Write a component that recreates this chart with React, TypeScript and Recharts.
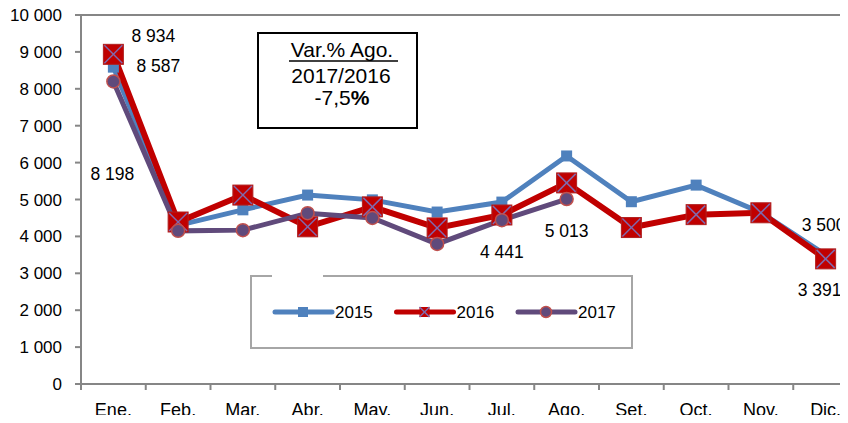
import { LineChart, Line, XAxis, YAxis, ReferenceLine, Legend, LabelList, Customized } from "recharts";

const MONTHS = ["Ene.", "Feb.", "Mar.", "Abr.", "May.", "Jun.", "Jul.", "Ago.", "Set.", "Oct.", "Nov.", "Dic."];
const VALUES_2015 = [8587, 4300, 4720, 5120, 4990, 4660, 4930, 6180, 4940, 5390, 4650, 3500];
const VALUES_2016 = [8934, 4390, 5120, 4260, 4800, 4230, 4580, 5450, 4240, 4590, 4640, 3391];
const VALUES_2017 = [8198, 4150, 4170, 4630, 4500, 3795, 4441, 5013, null, null, null, null];
const Y_TICKS = [0, 1000, 2000, 3000, 4000, 5000, 6000, 7000, 8000, 9000, 10000];

// which points carry a value label
const LABELLED_2015 = [0, 11];
const LABELLED_2016 = [0, 11];
const LABELLED_2017 = [0, 6, 7];

const data = MONTHS.map((m, i) => ({
  month: m,
  "2015": VALUES_2015[i],
  "2016": VALUES_2016[i],
  "2017": VALUES_2017[i],
}));

const FONT = "'Liberation Sans', Arial, sans-serif";
const AXIS = "#868686";
const BLUE = "#4F81BD";
const RED = "#C00000";
const PURPLE = "#604A7B";
const CHART_W = 871;
const CHART_H = 423;
const X_AXIS_H = 39;
const PLOT_LEFT = 81;
const PLOT_RIGHT = 858;
const PLOT_BOTTOM = CHART_H - X_AXIS_H;
const HALF_STEP = (PLOT_RIGHT - PLOT_LEFT) / MONTHS.length / 2;

const fmt = (v: number) => String(v).replace(/\B(?=(\d{3})+(?!\d))/g, " ");

// label offsets per series / point index
const LABEL_OFFSETS: Record<string, Record<number, { dx: number; dy: number }>> = {
  "2015": { 0: { dx: 45, dy: -1 }, 11: { dx: -2, dy: -30 } },
  "2016": { 0: { dx: 40, dy: -19 }, 11: { dx: -6, dy: 31 } },
  "2017": { 0: { dx: -1, dy: 92 }, 6: { dx: 0, dy: 32 }, 7: { dx: 0, dy: 32 } },
};

const makeLabel = (series: string, which: number[]) => (props: any) => {
  const { x, y, value, index } = props;
  if (!which.includes(index) || value == null) return null;
  const off = LABEL_OFFSETS[series][index];
  return (
    <text
      key={`${series}-${index}`}
      x={x + off.dx}
      y={y + off.dy}
      dy="0.355em"
      textAnchor="middle"
      fontFamily={FONT}
      fontSize={17.5}
      fill="#000"
    >
      {fmt(value)}
    </text>
  );
};

const SquareDot = (props: any) => {
  const { cx, cy, index } = props;
  if (cx == null || cy == null) return null;
  return <rect key={`b${index}`} x={cx - 5.5} y={cy - 5.5} width={11} height={11} fill={BLUE} />;
};

const CrossDot = (props: any) => {
  const { cx, cy, index } = props;
  if (cx == null || cy == null) return null;
  const s = 10;
  return (
    <g key={`r${index}`}>
      <rect x={cx - s} y={cy - s} width={s * 2} height={s * 2} fill={RED} stroke="#B02020" strokeWidth={1} />
      <line x1={cx - s + 1} y1={cy - s + 1} x2={cx + s - 1} y2={cy + s - 1} stroke="#7F6AAE" strokeWidth={1.5} />
      <line x1={cx - s + 1} y1={cy + s - 1} x2={cx + s - 1} y2={cy - s + 1} stroke="#7F6AAE" strokeWidth={1.5} />
    </g>
  );
};

const CircleDot = (props: any) => {
  const { cx, cy, index } = props;
  if (cx == null || cy == null) return null;
  return <circle key={`p${index}`} cx={cx} cy={cy} r={6.5} fill={PURPLE} stroke="#C0504D" strokeWidth={1.5} />;
};

// category label plus Excel-style tick marks between categories
const XTick = (props: any) => {
  const { x, payload, index } = props;
  const last = index === MONTHS.length - 1;
  const y = PLOT_BOTTOM;
  return (
    <g>
      <line x1={x - HALF_STEP} x2={x - HALF_STEP} y1={y} y2={y + 6} stroke={AXIS} strokeWidth={2} />
      {last && <line x1={x + HALF_STEP} x2={x + HALF_STEP} y1={y} y2={y + 6} stroke={AXIS} strokeWidth={2} />}
      <text x={x} y={y + 32} textAnchor="middle" fontFamily={FONT} fontSize={18} fill="#000">
        {payload.value}
      </text>
    </g>
  );
};

const LegendBox = (props: any) => {
  const items = props.payload || [];
  const W = 383;
  const H = 74;
  return (
    <svg width={W} height={H} style={{ display: "block", overflow: "visible" }}>
      <path
        d={`M22 1 H1 V${H - 1} H${W - 1} V1 H73`}
        fill="none"
        stroke="#A6A6A6"
        strokeWidth={2}
      />
      {items.map((it: any, i: number) => {
        const x0 = 25 + i * 121.5;
        const cx = x0 + 28;
        const cy = 37;
        return (
          <g key={it.value}>
            <line x1={x0} x2={x0 + 57} y1={cy} y2={cy} stroke={it.color} strokeWidth={5} strokeLinecap="round" />
            {i === 0 && <rect x={cx - 5} y={cy - 5} width={10} height={10} fill={BLUE} />}
            {i === 1 && (
              <g>
                <rect x={cx - 5} y={cy - 5} width={10} height={10} fill={RED} />
                <line x1={cx - 5} y1={cy - 5} x2={cx + 5} y2={cy + 5} stroke="#7F6AAE" strokeWidth={1.5} />
                <line x1={cx - 5} y1={cy + 5} x2={cx + 5} y2={cy - 5} stroke="#7F6AAE" strokeWidth={1.5} />
              </g>
            )}
            {i === 2 && <circle cx={cx} cy={cy} r={5.5} fill={PURPLE} stroke="#C0504D" strokeWidth={1.5} />}
            <text x={x0 + 60} y={cy} dy="0.355em" fontFamily={FONT} fontSize={17} fill="#000">
              {it.value}
            </text>
          </g>
        );
      })}
    </svg>
  );
};

const NoteBox = () => (
  <g fontFamily={FONT} fontSize={21} fill="#000" textAnchor="middle">
    <rect x={258} y={33} width={159} height={95} fill="#fff" stroke="#000" strokeWidth={2} />
    <text x={342} y={57}>Var.% Ago.</text>
    <line x1={289} x2={398} y1={61} y2={61} stroke="#000" strokeWidth={1.5} />
    <text x={341} y={83}>2017/2016</text>
    <text x={342} y={105}>
      -7,5<tspan fontWeight="bold">%</tspan>
    </text>
  </g>
);

export default function App() {
  return (
    <div style={{ margin: -8, width: 848, height: 423, overflow: "hidden", background: "#fff", position: "relative" }}>
      <LineChart
        width={CHART_W}
        height={CHART_H}
        data={data}
        margin={{ top: 15, right: CHART_W - PLOT_RIGHT, left: 0, bottom: 0 }}
      >
        <XAxis
          dataKey="month"
          height={X_AXIS_H}
          padding={{ left: HALF_STEP, right: HALF_STEP }}
          tickLine={false}
          tick={<XTick />}
          interval={0}
          axisLine={{ stroke: AXIS, strokeWidth: 2 }}
        />
        <YAxis
          width={PLOT_LEFT}
          domain={[0, 10000]}
          ticks={Y_TICKS}
          interval={0}
          tickFormatter={fmt}
          tickSize={6}
          tickMargin={13}
          axisLine={{ stroke: AXIS, strokeWidth: 2 }}
          tickLine={{ stroke: AXIS, strokeWidth: 2 }}
          tick={{ fill: "#000", fontSize: 17, fontFamily: FONT }}
        />
        <ReferenceLine y={10000} stroke={AXIS} strokeWidth={2} />
        <Legend
          layout="horizontal"
          verticalAlign="middle"
          align="center"
          content={<LegendBox />}
          wrapperStyle={{ left: 250, top: 275, width: 383, height: 74 }}
        />
        <Line
          dataKey="2015"
          stroke={BLUE}
          strokeWidth={5}
          dot={SquareDot}
          activeDot={false}
          isAnimationActive={false}
        >
          <LabelList dataKey="2015" content={makeLabel("2015", LABELLED_2015)} />
        </Line>
        <Line
          dataKey="2016"
          stroke={RED}
          strokeWidth={6}
          dot={CrossDot}
          activeDot={false}
          isAnimationActive={false}
        >
          <LabelList dataKey="2016" content={makeLabel("2016", LABELLED_2016)} />
        </Line>
        <Line
          dataKey="2017"
          stroke={PURPLE}
          strokeWidth={5}
          dot={CircleDot}
          activeDot={false}
          isAnimationActive={false}
        >
          <LabelList dataKey="2017" content={makeLabel("2017", LABELLED_2017)} />
        </Line>
        <Customized component={NoteBox} />
      </LineChart>
    </div>
  );
}
